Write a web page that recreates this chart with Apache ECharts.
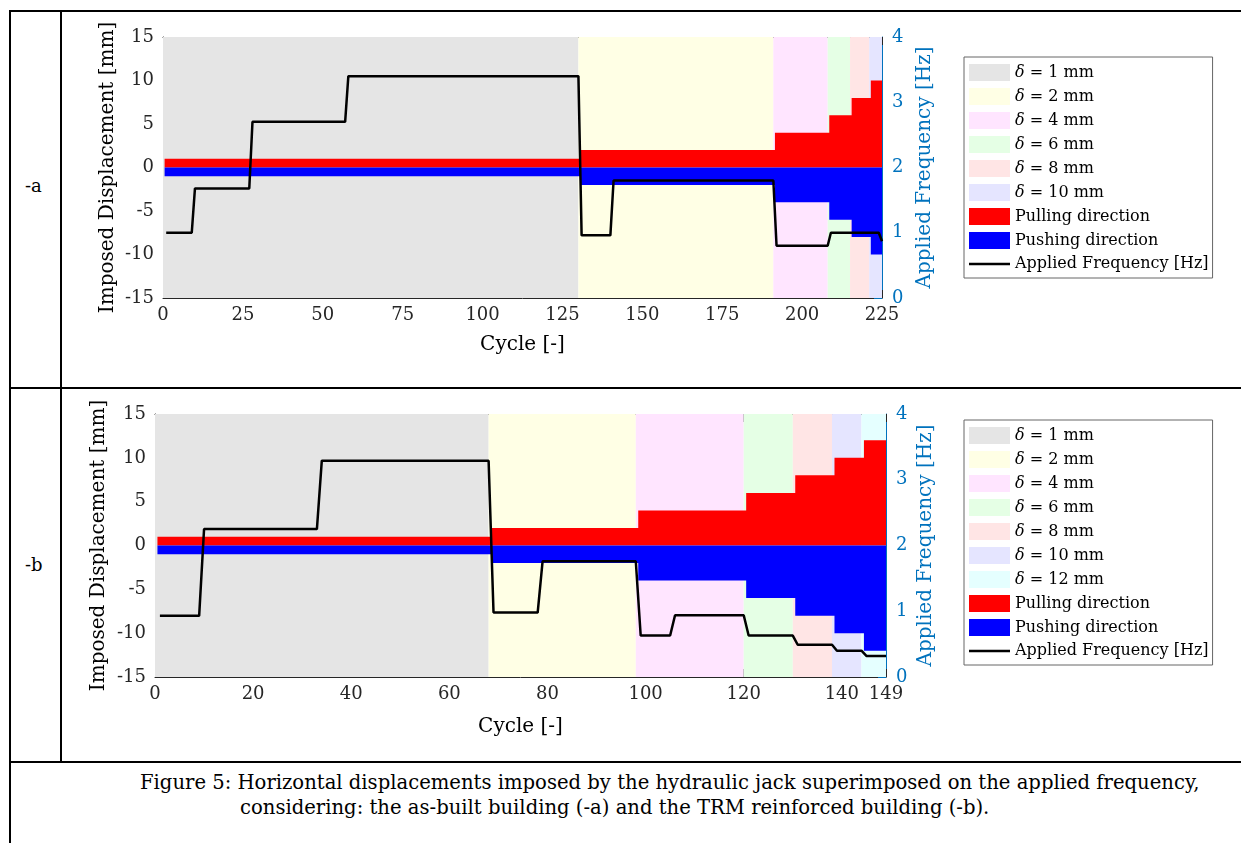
<!DOCTYPE html>
<html>
<head>
<meta charset="utf-8">
<script src="https://cdn.jsdelivr.net/npm/echarts@6/dist/echarts.min.js"></script>
<style>
body { margin: 0; background: #fff; }
#page { position: relative; width: 1241px; height: 843px; overflow: hidden; font-family: "DejaVu Serif", serif; color: #000; }
.ln { position: absolute; background: #000; }
.lbl { position: absolute; font-size: 18px; line-height: 22px; white-space: nowrap; }
.cap { position: absolute; font-size: 19.6px; line-height: 24px; white-space: nowrap; }
.chart { position: absolute; left: 62px; width: 1179px; }
</style>
</head>
<body>
<div id="page">
  <div class="ln" style="left:9px;top:10px;width:1232px;height:2px"></div>
  <div class="ln" style="left:9px;top:10px;width:2px;height:833px"></div>
  <div class="ln" style="left:60px;top:10px;width:2px;height:752px"></div>
  <div class="ln" style="left:9px;top:387px;width:1232px;height:2px"></div>
  <div class="ln" style="left:9px;top:761px;width:1232px;height:2px"></div>

  <div class="lbl" style="left:25px;top:175px">-a</div>
  <div class="lbl" style="left:25px;top:554px">-b</div>

  <div id="chartA" class="chart" style="top:12px;height:375px"></div>
  <div id="chartB" class="chart" style="top:389px;height:372px"></div>

  <div class="cap" style="left:140px;top:771px">Figure 5: Horizontal displacements imposed by the hydraulic jack superimposed on the applied frequency,</div>
  <div class="cap" style="left:240px;top:796px">considering: the as-built building (-a) and the TRM reinforced building (-b).</div>
</div>
<script>
var fontFamily = '"DejaVu Serif", serif';
var freqColor = '#0072bd';

var deltaNames = ['δ = 1 mm', 'δ = 2 mm', 'δ = 4 mm', 'δ = 6 mm', 'δ = 8 mm', 'δ = 10 mm', 'δ = 12 mm'];
var deltaColors = ['#e5e5e5', '#ffffe5', '#ffe5ff', '#e5ffe5', '#ffe5e5', '#e5e5ff', '#e5ffff'];

// -a : as-built building
var aZoneEdges = [0, 130, 191, 208, 215, 221, 225];
var aStepEdges = [0.5, 130.5, 191.5, 208.5, 215.5, 221.5, 225.5];
var aAmplitude = [1, 2, 4, 6, 8, 10];
var aFreqCycle = [1, 9, 10, 27, 28, 57, 58, 130, 131, 140, 141, 191, 192, 208, 209, 224, 225];
var aFreqHz = [1.0, 1.0, 1.68, 1.68, 2.7, 2.7, 3.4, 3.4, 0.96, 0.96, 1.8, 1.8, 0.8, 0.8, 1.0, 1.0, 0.87];

// -b : TRM reinforced building
var bZoneEdges = [0, 68, 98, 120, 130, 138, 144, 149];
var bStepEdges = [0.5, 68.5, 98.5, 120.5, 130.5, 138.5, 144.5, 149.5];
var bAmplitude = [1, 2, 4, 6, 8, 10, 12];
var bFreqCycle = [1, 9, 10, 33, 34, 68, 69, 78, 79, 98, 99, 105, 106, 120, 121, 130, 131, 138, 139, 144, 145, 149];
var bFreqHz = [0.93, 0.93, 2.25, 2.25, 3.29, 3.29, 0.98, 0.98, 1.76, 1.76, 0.63, 0.63, 0.94, 0.94, 0.63, 0.63, 0.49, 0.49, 0.40, 0.40, 0.32, 0.32];

function stepData(edges, amp, sign) {
	var d = [];
	for (var i = 0; i < amp.length; i++) d.push([edges[i], sign * amp[i]]);
	d.push([edges[amp.length], sign * amp[amp.length - 1]]);
	return d;
}

function buildChart(el, cfg) {
	var chart = echarts.init(document.getElementById(el));
	var series = [];
	var legendData = [];
	for (var i = 0; i < cfg.zones.length - 1; i++) {
		series.push({
			name: deltaNames[i],
			type: 'bar',
			data: [],
			itemStyle: { color: deltaColors[i] },
			markArea: {
				silent: true,
				label: { show: false },
				itemStyle: { color: deltaColors[i], opacity: 1 },
				data: [[{ xAxis: cfg.zones[i] }, { xAxis: cfg.zones[i + 1] }]]
			}
		});
		legendData.push({ name: deltaNames[i], icon: 'rect', itemStyle: { color: deltaColors[i], borderWidth: 0 } });
	}
	series.push({
		name: 'Pulling direction', type: 'line', step: 'end', symbol: 'none', silent: true,
		color: '#ff0000', lineStyle: { width: 0 }, areaStyle: { color: '#ff0000', opacity: 1 },
		data: stepData(cfg.steps, cfg.amp, 1), z: 3
	});
	series.push({
		name: 'Pushing direction', type: 'line', step: 'end', symbol: 'none', silent: true,
		color: '#0000ff', lineStyle: { width: 0 }, areaStyle: { color: '#0000ff', opacity: 1 },
		data: stepData(cfg.steps, cfg.amp, -1), z: 3
	});
	legendData.push({ name: 'Pulling direction', icon: 'rect', itemStyle: { color: '#ff0000', borderWidth: 0 } });
	legendData.push({ name: 'Pushing direction', icon: 'rect', itemStyle: { color: '#0000ff', borderWidth: 0 } });

	var freq = [];
	for (var k = 0; k < cfg.fc.length; k++) freq.push([cfg.fc[k], cfg.fh[k]]);
	series.push({
		name: 'Applied Frequency [Hz]', type: 'line', yAxisIndex: 1, symbol: 'none',
		color: '#000', lineStyle: { color: '#000', width: 2.5 }, data: freq, z: 5
	});
	// plain line as legend mark, no symbol
	legendData.push({ name: 'Applied Frequency [Hz]', icon: 'path://M0,0h41v2.5h-41z', itemStyle: { color: '#000', borderWidth: 0 } });

	var tick = { show: true, inside: true, length: 8, lineStyle: { color: '#262626' } };
	var label = { color: '#262626', fontFamily: fontFamily, fontSize: 18 };
	var nameStyle = { color: '#000', fontFamily: fontFamily, fontSize: 20 };

	var option = {
		animation: false,
		textStyle: { fontFamily: fontFamily },
		grid: { left: cfg.grid[0], top: cfg.grid[1], width: cfg.grid[2], height: cfg.grid[3], outerBoundsMode: 'none', containLabel: false },
		legend: {
			orient: 'vertical', left: 902, top: cfg.legendTop,
			padding: [7, 4, 6, 5], itemWidth: 41, itemHeight: 17, itemGap: 7, itemTextGap: 2,
			borderColor: '#666', borderWidth: 1, backgroundColor: '#fff',
			textStyle: { color: '#000', fontFamily: fontFamily, fontSize: 16, rich: { i: { fontStyle: 'italic', fontFamily: fontFamily, fontSize: 16, color: '#000' } } },
			formatter: function (n) { return n.replace('δ', '{i|δ}'); },
			data: legendData
		},
		xAxis: [
			{ type: 'value', position: 'bottom', min: 0, max: cfg.xMax, interval: cfg.xInt,
				name: 'Cycle [-]', nameLocation: 'middle', nameGap: cfg.xNameGap, nameMoveOverlap: false, nameTextStyle: nameStyle,
				axisLine: { onZero: false, lineStyle: { color: '#262626' } }, axisTick: tick,
				axisLabel: label, splitLine: { show: false } },
			{ type: 'value', position: 'top', min: 0, max: cfg.xMax, interval: cfg.xInt,
				axisLine: { onZero: false, lineStyle: { color: '#262626' } }, axisTick: tick,
				axisLabel: { show: false }, splitLine: { show: false } }
		],
		yAxis: [
			{ type: 'value', position: 'left', min: -15, max: 15, interval: 5,
				name: 'Imposed Displacement [mm]', nameLocation: 'middle', nameGap: cfg.yNameGap, nameMoveOverlap: false, nameTextStyle: nameStyle,
				axisLine: { show: true, onZero: false, lineStyle: { color: '#262626' } }, axisTick: tick,
				axisLabel: Object.assign({ margin: 9 }, label), splitLine: { show: false } },
			{ type: 'value', position: 'right', min: 0, max: 4, interval: 1,
				name: 'Applied Frequency [Hz]', nameLocation: 'middle', nameGap: cfg.y2NameGap, nameMoveOverlap: false,
				nameTextStyle: Object.assign({}, nameStyle, { color: freqColor }),
				axisLine: { show: true, onZero: false, lineStyle: { color: freqColor } },
				axisTick: { show: true, inside: true, length: 8, lineStyle: { color: freqColor } },
				axisLabel: { color: freqColor, fontFamily: fontFamily, fontSize: 18, margin: 10 }, splitLine: { show: false } }
		],
		series: series
	};
	chart.setOption(option);
	return chart;
}

buildChart('chartA', {
	zones: aZoneEdges, steps: aStepEdges, amp: aAmplitude, fc: aFreqCycle, fh: aFreqHz,
	grid: [101, 25, 719, 261], legendTop: 45, xMax: 225, xInt: 25,
	xNameGap: 37, yNameGap: 45, y2NameGap: 33
});
buildChart('chartB', {
	zones: bZoneEdges, steps: bStepEdges, amp: bAmplitude, fc: bFreqCycle, fh: bFreqHz,
	grid: [93, 25, 731, 263], legendTop: 31, xMax: 149, xInt: 20,
	xNameGap: 40, yNameGap: 46, y2NameGap: 30
});
</script>
</body>
</html>
